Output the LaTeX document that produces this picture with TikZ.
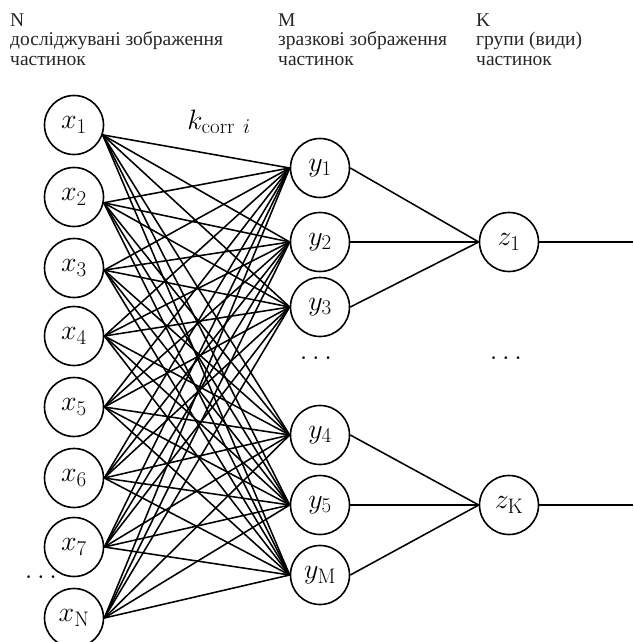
\RequirePackage{fix-cm}
\documentclass[tikz,border=0pt]{standalone}
\usepackage[no-math]{fontspec}
\newfontfamily\cyr{Liberation Serif}
\DeclareMathSizes{28}{28}{21}{15}
\begin{document}
\begin{tikzpicture}[x=1pt,y=-1pt,
  neuron/.style={circle,draw,line width=1.6pt,minimum size=59pt,inner sep=0pt,font=\fontsize{28}{31}\selectfont},
  conn/.style={line width=1.55pt,black},
  head/.style={anchor=base west,font=\cyr\fontsize{19.5}{22}\selectfont,text=black!85,inner sep=0pt},
  dots/.style={font=\fontsize{28}{31}\selectfont,inner sep=0pt}]
\useasboundingbox (0,0) rectangle (633,642);
% header texts
\node[head] (hN1) at (10,27) {N};
\node[head] (hN2) at (10,46) {досліджувані зображення};
\node[head] (hN3) at (10,66) {частинок};
\node[head] (hM1) at (278,27) {M};
\node[head] (hM2) at (278,46) {зразкові зображення};
\node[head] (hM3) at (278,66) {частинок};
\node[head] (hK1) at (476,27) {K};
\node[head] (hK2) at (476,46) {групи (види)};
\node[head] (hK3) at (476,66) {частинок};
% x nodes
\foreach \i/\yy/\lab in {1/125/1,2/197/2,3/268/3,4/336/4,5/407/5,6/478/6,7/547/7,8/618/{\mathrm{N}}}
  \node[neuron] (x\i) at (74,\yy) {$x_{\lab}$};
% y nodes
\foreach \j/\yy/\lab in {1/168/1,2/242/2,3/307/3,4/435/4,5/505/5,6/575/{\mathrm{M}}}
  \node[neuron] (y\j) at (320,\yy) {$y_{\lab}$};
% z nodes
\node[neuron] (z1) at (509,242) {$z_1$};
\node[neuron] (z2) at (509,505) {$z_{\mathrm{K}}$};
% dots
\node[dots] (d1) at (316,358) {$\dots$};
\node[dots] (d2) at (506,358) {$\dots$};
\node[dots] (d3) at (41,577) {$\dots$};
% label
\node[font=\fontsize{28}{31}\selectfont,inner sep=0pt] (k) at (219,122) {$k_{\mathrm{corr}\ i}$};
% connection anchors on the x nodes
\foreach \i/\ang in {1/-19,2/-11,3/-4,4/0,5/0,6/0,7/0,8/0}
  \coordinate (cx\i) at (x\i.\ang);
% connections
\foreach \i in {1,...,8}
  \foreach \j in {1,...,6}
    \draw[conn] (cx\i) -- (y\j.west);
\foreach \j in {1,2,3}
  \draw[conn] (y\j.east) -- (z1.west);
\foreach \j in {4,5,6}
  \draw[conn] (y\j.east) -- (z2.west);
\coordinate (o1) at (633,242);
\coordinate (o2) at (633,505);
\draw[conn] (z1.east) -- (o1);
\draw[conn] (z2.east) -- (o2);
\end{tikzpicture}
\end{document}
